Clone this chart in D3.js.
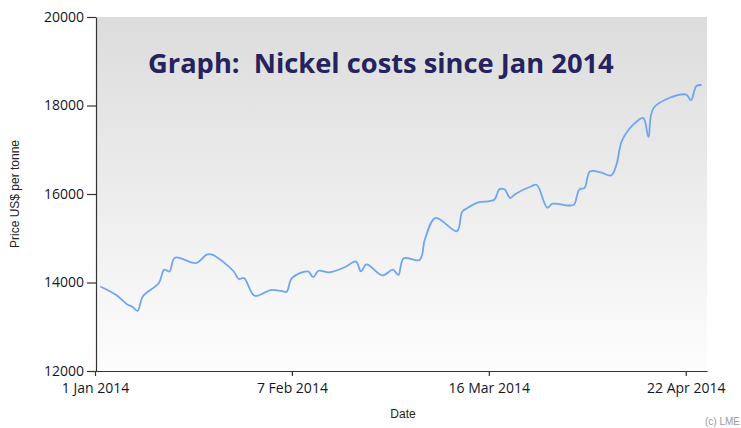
<!DOCTYPE html>
<html lang="en">
<head>
    <meta charset="UTF-8">
    <script src="https://cdnjs.cloudflare.com/ajax/libs/d3/7.8.5/d3.min.js"></script>
    <style>
        body { margin: 0; background: #fff; }
        .axis text { font-family: "Open Sans", sans-serif; font-size: 14px; fill: #15152a; }
        .axis path, .axis line { stroke: #333; stroke-width: 1.2px; }
    </style>
</head>
<body>
    <svg width="741" height="428"></svg>
    <script>
        const dates = [
            '2014-01-02', '2014-01-05', '2014-01-07', '2014-01-08', '2014-01-09', '2014-01-10',
            '2014-01-13', '2014-01-14', '2014-01-15', '2014-01-16', '2014-01-20', '2014-01-22',
            '2014-01-23', '2014-01-27', '2014-01-28', '2014-01-29', '2014-01-31', '2014-02-03',
            '2014-02-05', '2014-02-06', '2014-02-07', '2014-02-10', '2014-02-11', '2014-02-12',
            '2014-02-14', '2014-02-17', '2014-02-19', '2014-02-20', '2014-02-21', '2014-02-24',
            '2014-02-26', '2014-02-27', '2014-02-28', '2014-03-03', '2014-03-04', '2014-03-06',
            '2014-03-10', '2014-03-11', '2014-03-12', '2014-03-14', '2014-03-17', '2014-03-18',
            '2014-03-19', '2014-03-20', '2014-03-21', '2014-03-24', '2014-03-25', '2014-03-27',
            '2014-03-28', '2014-03-31', '2014-04-01', '2014-04-02', '2014-04-03', '2014-04-04',
            '2014-04-06', '2014-04-08', '2014-04-09', '2014-04-10', '2014-04-12', '2014-04-14',
            '2014-04-15', '2014-04-16', '2014-04-22', '2014-04-23', '2014-04-24', '2014-04-25'
        ];
        const prices = [
            13909, 13715, 13510, 13450, 13360, 13690,
            13990, 14290, 14250, 14560, 14440, 14630,
            14630, 14260, 14080, 14100, 13700, 13830,
            13810, 13790, 14100, 14250, 14120, 14265,
            14230, 14350, 14476, 14250, 14410, 14160,
            14290, 14170, 14550, 14510, 14980, 15460,
            15160, 15600, 15685, 15810, 15870, 16110,
            16100, 15910, 16000, 16175, 16210, 15690,
            15780, 15740, 15760, 16100, 16140, 16510,
            16490, 16420, 16670, 17200, 17550, 17720,
            17290, 17950, 18250, 18120, 18440, 18462
        ];
        const tickDates = ['2014-01-01', '2014-02-07', '2014-03-16', '2014-04-22'];
        const tickPrices = [12000, 14000, 16000, 18000, 20000];

        const parse = d3.timeParse('%Y-%m-%d');
        const data = dates.map((d, i) => ({ date: parse(d), price: prices[i] }));

        const svg = d3.select('svg');
        const plotL = 96, plotR = 707, plotT = 17, plotB = 371;

        const x = d3.scaleTime()
            .domain([parse('2014-01-01'), parse('2014-04-26')])
            .range([plotL - 1, plotR]);
        const y = d3.scaleLinear().domain([12000, 20000]).range([plotB, plotT]);

        // plot background
        const grad = svg.append('defs').append('linearGradient')
            .attr('id', 'bg').attr('x1', 0).attr('y1', 0).attr('x2', 0).attr('y2', 1);
        grad.append('stop').attr('offset', '0%').attr('stop-color', '#dcdcdc');
        grad.append('stop').attr('offset', '100%').attr('stop-color', '#fdfdfd');
        svg.append('rect')
            .attr('x', plotL).attr('y', plotT)
            .attr('width', plotR - plotL).attr('height', plotB - plotT)
            .attr('fill', 'url(#bg)');

        // title
        const title = svg.append('text')
            .attr('x', 148).attr('y', 73)
            .style('font-family', '"Open Sans", sans-serif')
            .style('font-weight', 'bold')
            .style('font-size', '28px')
            .attr('fill', '#25235e')
            .attr('xml:space', 'preserve')
            .text('Graph:  Nickel costs since Jan 2014');
        const tw = title.node().getComputedTextLength();
        title.style('font-size', (28 * 466 / tw) + 'px');

        // line
        const line = d3.line()
            .x(d => x(d.date))
            .y(d => y(d.price))
            .curve(d3.curveCatmullRom.alpha(0.5));
        svg.append('path')
            .datum(data)
            .attr('d', line)
            .attr('fill', 'none')
            .attr('stroke', '#6fa5f2')
            .attr('stroke-width', 1.8);

        // axes
        const fmt = d3.timeFormat('%-d %b %Y');
        svg.append('g').attr('class', 'axis')
            .attr('transform', `translate(0,${plotB})`)
            .call(d3.axisBottom(x).tickValues(tickDates.map(parse)).tickFormat(fmt)
                .tickSizeInner(5).tickSizeOuter(0).tickPadding(7));
        svg.append('g').attr('class', 'axis')
            .attr('transform', `translate(${plotL},0)`)
            .call(d3.axisLeft(y).tickValues(tickPrices).tickFormat(d3.format('d'))
                .tickSizeInner(9).tickSizeOuter(0).tickPadding(3));

        // axis titles
        svg.append('text')
            .attr('x', 403).attr('y', 418)
            .attr('text-anchor', 'middle')
            .style('font-family', '"Liberation Sans", Arial, sans-serif')
            .style('font-size', '12px').attr('fill', '#222')
            .text('Date');
        svg.append('text')
            .attr('transform', 'translate(19,194) rotate(-90)')
            .attr('text-anchor', 'middle')
            .style('font-family', '"Liberation Sans", Arial, sans-serif')
            .style('font-size', '12px').attr('fill', '#222')
            .text('Price US$ per tonne');
        svg.append('text')
            .attr('x', 740).attr('y', 425)
            .attr('text-anchor', 'end')
            .style('font-family', '"Liberation Sans", Arial, sans-serif')
            .style('font-size', '10px').attr('fill', '#999')
            .text('(c) LME');
    </script>
</body>
</html>
